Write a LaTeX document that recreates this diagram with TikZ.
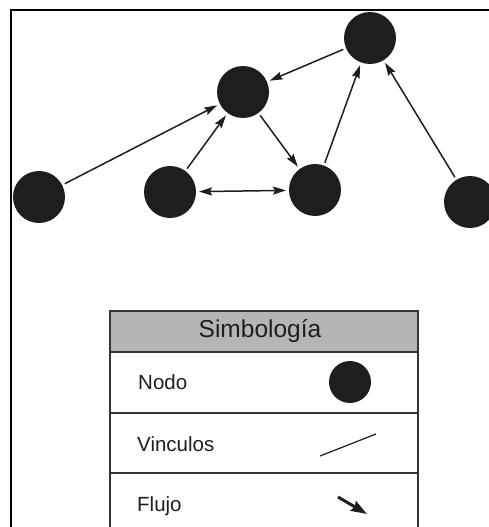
\documentclass[tikz,border=0pt]{standalone}
\usepackage{fontspec}
\setmainfont{Liberation Sans}
\usetikzlibrary{arrows.meta}
\definecolor{nodefill}{HTML}{1E1E1E}
\definecolor{headgray}{HTML}{B5B5B5}
\definecolor{tabline}{HTML}{333333}
\tikzset{
  netnode/.style={circle, fill=nodefill, draw=none, minimum size=52pt, inner sep=0pt, outer sep=3pt},
  flow/.style={line width=1.5pt, draw=nodefill, -{Stealth[length=13pt,width=8pt,inset=2pt]}},
  bothflow/.style={line width=1.5pt, draw=nodefill, {Stealth[length=13pt,width=8pt,inset=2pt]}-{Stealth[length=13pt,width=8pt,inset=2pt]}},
  tabrule/.style={line width=1.4pt, draw=tabline},
  rowtext/.style={anchor=base west, inner sep=0pt, font=\fontsize{20.5pt}{24pt}\selectfont, text=nodefill},
}
\begin{document}
\begin{tikzpicture}[x=1pt,y=-1pt]
\useasboundingbox (0,0) rectangle (489,527);
\clip (0,0) rectangle (489,527);
\fill[white] (0,0) rectangle (489,527);
% frame
\draw[line width=2pt, black] (11,527) -- (11,10) -- (489,10);
% network nodes
\node[netnode] (A) at (39,197) {};
\node[netnode] (B) at (170,192) {};
\node[netnode] (C) at (243,92) {};
\node[netnode] (D) at (315,190) {};
\node[netnode] (E) at (370,38) {};
\node[netnode] (F) at (470,202) {};
% connectors
\draw[flow] (A) -- (C);
\draw[flow] (B) -- (C);
\draw[flow] (C) -- (D);
\draw[bothflow] (B) -- (D);
\draw[flow] (D) -- (E);
\draw[flow] (E) -- (C);
\draw[flow] (F) -- (E);
% legend table
\fill[headgray] (110,311) rectangle (418,352);
\draw[tabrule] (110,527) -- (110,311) -- (418,311) -- (418,527);
\draw[tabrule] (110,352) -- (418,352);
\draw[tabrule] (110,413) -- (418,413);
\draw[tabrule] (110,473) -- (418,473);
\node[anchor=base, inner sep=0pt, font=\fontsize{24.5pt}{28pt}\selectfont, text=nodefill] (title) at (260,337) {Simbología};
\node[rowtext] (tnodo) at (138,389) {Nodo};
\node[rowtext] (tvinc) at (137,451) {Vinculos};
\node[rowtext] (tflujo) at (137,511) {Flujo};
\node[circle, fill=nodefill, minimum size=42pt, inner sep=0pt] (lnode) at (350,382) {};
\coordinate (v1) at (320,456);
\coordinate (v2) at (376,434);
\draw[line width=1.2pt, draw=nodefill] (v1) -- (v2);
\coordinate (f1) at (338,497);
\coordinate (f2) at (367,514);
\draw[line width=3pt, draw=nodefill, -{Stealth[length=16pt,width=11pt,inset=2pt]}] (f1) -- (f2);
\end{tikzpicture}
\end{document}
